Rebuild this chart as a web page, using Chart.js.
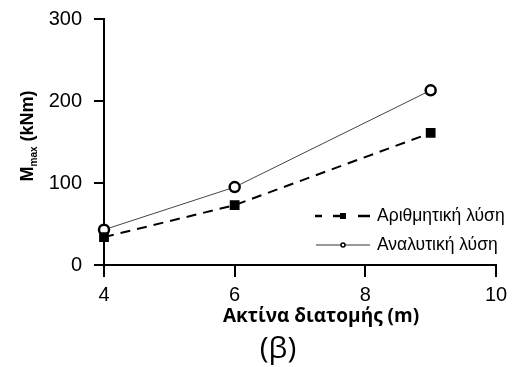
<!DOCTYPE html>
<html>
<head>
<meta charset="utf-8">
<script src="https://cdn.jsdelivr.net/npm/chart.js@4/dist/chart.umd.min.js"></script>
<style>
  html, body { margin: 0; padding: 0; background: #fff; }
  #wrap { width: 512px; height: 367px; }
</style>
</head>
<body>
<div id="wrap"><canvas id="chart" width="512" height="367"></canvas></div>
<script>
// data
const radii = [4, 6, 9];
const numerical = [34, 73, 161];
const analytical = [43, 95, 213];
const legendLabels = ['Αριθμητική λύση', 'Αναλυτική λύση'];
const xTitle = 'Ακτίνα διατομής (m)';
const caption = '(β)';

const pts = vals => radii.map((x, i) => ({ x: x, y: vals[i] }));

// titles, caption and in-plot legend
const decor = {
  id: 'decor',
  afterDraw(chart) {
    const ctx = chart.ctx;
    ctx.save();
    ctx.fillStyle = '#000';
    ctx.textBaseline = 'alphabetic';

    // y title with subscript
    ctx.translate(33, 136);
    ctx.rotate(-Math.PI / 2);
    const big = 'bold 18px "Liberation Sans", Arial, sans-serif';
    const small = 'bold 10px "Liberation Sans", Arial, sans-serif';
    ctx.font = big; const w1 = ctx.measureText('M').width;
    const w3 = ctx.measureText(' (kNm)').width;
    ctx.font = small; const w2 = ctx.measureText('max').width;
    let x0 = -(w1 + w2 + w3) / 2;
    ctx.textAlign = 'left';
    ctx.font = big; ctx.fillText('M', x0, 0);
    ctx.font = small; ctx.fillText('max', x0 + w1, 4);
    ctx.font = big; ctx.fillText(' (kNm)', x0 + w1 + w2, 0);
    ctx.setTransform(1, 0, 0, 1, 0, 0);

    // x title and caption
    ctx.textAlign = 'center';
    ctx.font = 'bold 19px "Open Sans", sans-serif';
    ctx.fillText(xTitle, 321, 322);
    ctx.font = '30px "Open Sans", sans-serif';
    ctx.fillText(caption, 278, 358);

    // legend
    ctx.strokeStyle = '#000';
    ctx.lineWidth = 2.5;
    [[315, 322], [333, 342], [358, 370]].forEach(([a, b]) => {
      ctx.beginPath(); ctx.moveTo(a, 216); ctx.lineTo(b, 216); ctx.stroke();
    });
    ctx.fillRect(340, 213, 6, 6);
    ctx.lineWidth = 1;
    ctx.strokeStyle = '#333';
    ctx.beginPath(); ctx.moveTo(316, 245); ctx.lineTo(370, 245); ctx.stroke();
    ctx.beginPath(); ctx.arc(343, 245, 2, 0, Math.PI * 2);
    ctx.fillStyle = '#fff'; ctx.fill();
    ctx.lineWidth = 1.5; ctx.strokeStyle = '#000'; ctx.stroke();
    ctx.fillStyle = '#000';
    ctx.textAlign = 'left';
    ctx.font = '17.5px "Liberation Sans", Arial, sans-serif';
    ctx.fillText(legendLabels[0], 377, 221);
    ctx.fillText(legendLabels[1], 377, 250);
    ctx.restore();
  }
};

new Chart(document.getElementById('chart').getContext('2d'), {
  type: 'line',
  data: {
    datasets: [
      {
        label: legendLabels[0], data: pts(numerical),
        borderColor: '#000', borderWidth: 2, borderDash: [10, 7],
        pointStyle: 'rect', pointRadius: 5.5, pointBackgroundColor: '#000', pointBorderColor: '#000',
        fill: false, tension: 0
      },
      {
        label: legendLabels[1], data: pts(analytical),
        borderColor: '#444', borderWidth: 1,
        pointStyle: 'circle', pointRadius: 5, pointBorderWidth: 2.5,
        pointBackgroundColor: '#fff', pointBorderColor: '#000',
        fill: false, tension: 0
      }
    ]
  },
  options: {
    responsive: false,
    animation: false,
    clip: false,
    layout: { padding: { left: 0, right: 16, top: 19, bottom: 0 } },
    plugins: { legend: { display: false }, tooltip: { enabled: false } },
    scales: {
      x: {
        type: 'linear', min: 4, max: 10,
        afterFit: s => { s.height = 102; s.paddingLeft = 0; s.paddingRight = 0; },
        ticks: { stepSize: 2, color: '#000', padding: 6, font: { family: '"Liberation Sans", Arial', size: 20 } },
        grid: { drawOnChartArea: false, tickLength: 12, color: '#000', lineWidth: 2 },
        border: { color: '#000', width: 2 }
      },
      y: {
        min: 0, max: 300,
        afterFit: s => { s.width = 104; s.paddingTop = 0; s.paddingBottom = 0; },
        ticks: { stepSize: 100, color: '#000', padding: 12, font: { family: '"Liberation Sans", Arial', size: 20 } },
        grid: { drawOnChartArea: false, tickLength: 10, color: '#000', lineWidth: 2 },
        border: { color: '#000', width: 2 }
      }
    }
  },
  plugins: [decor]
});
</script>
</body>
</html>
